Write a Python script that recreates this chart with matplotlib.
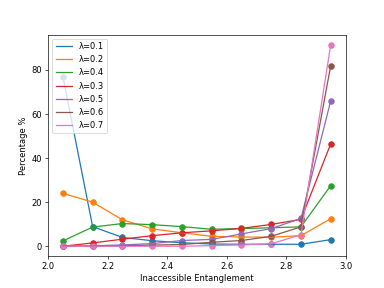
import matplotlib
matplotlib.use("Agg")
import matplotlib.pyplot as plt

"""Percentage of states vs inaccessible entanglement for several lambda values"""

x_vals = [2.05, 2.15, 2.25, 2.35, 2.45, 2.55, 2.65, 2.75, 2.85, 2.95]

labels = ["λ=0.1", "λ=0.2", "λ=0.4", "λ=0.3", "λ=0.5", "λ=0.6", "λ=0.7"]

lam_01 = [77.0, 8.9, 4.0, 2.5, 1.6, 1.0, 0.9, 0.9, 0.9, 3.0]
lam_02 = [24.0, 20.0, 12.0, 7.9, 6.1, 4.5, 4.2, 4.1, 4.8, 12.5]
lam_04 = [2.4, 8.7, 10.3, 9.8, 8.9, 7.7, 8.0, 8.4, 8.8, 27.5]
lam_03 = [0.0, 1.5, 3.2, 4.8, 6.1, 7.0, 8.1, 9.9, 12.2, 46.5]
lam_05 = [0.0, 0.2, 0.6, 1.2, 2.6, 3.1, 5.6, 8.0, 12.6, 66.0]
lam_06 = [0.0, 0.0, 0.2, 0.5, 0.8, 1.8, 2.6, 4.5, 8.8, 82.0]
lam_07 = [0.0, 0.0, 0.0, 0.0, 0.0, 0.3, 0.6, 1.1, 5.2, 91.5]

series = [lam_01, lam_02, lam_04, lam_03, lam_05, lam_06, lam_07]


def main():
    fig, ax = plt.subplots(figsize=(6.4, 4.8), dpi=60)

    for i, (lab, ys) in enumerate(zip(labels, series)):
        ax.plot(x_vals, ys, label=lab, color="C%d" % i)
        # markers drawn separately so the legend only shows lines
        ax.scatter(x_vals, ys, color="C%d" % i, s=45)

    ax.set_xlim(2.0, 3.0)
    ax.set_xlabel("Inaccessible Entanglement")
    ax.set_ylabel("Percentage %")
    ax.legend(loc="upper left")

    fig.savefig("out.png", dpi=60)


if __name__ == "__main__":
    main()
